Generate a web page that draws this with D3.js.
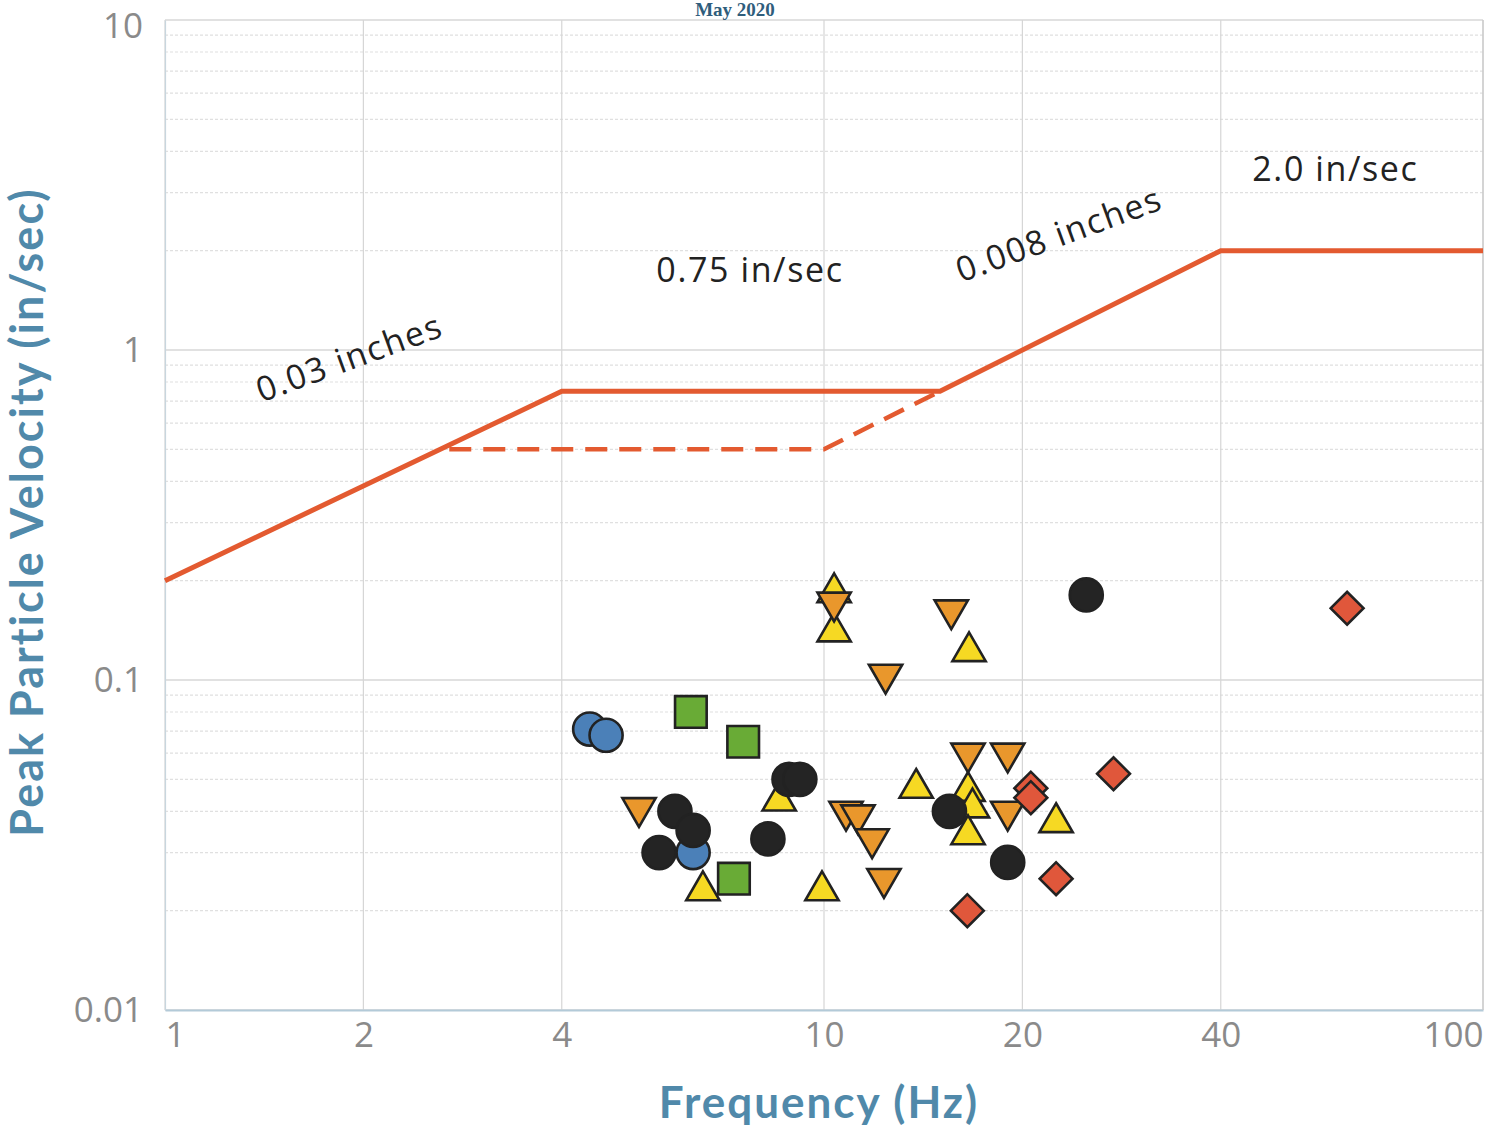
<!DOCTYPE html>
<html>
<head>
<meta charset="utf-8">
<script src="https://cdn.jsdelivr.net/npm/d3@7"></script>
<style>
  body { margin: 0; background: #fff; }
  svg { display: block; }
</style>
</head>
<body>
<div id="chart"></div>
<script>
// Tick values
var xTicks = [1, 2, 4, 10, 20, 40, 100];
var yTicks = [0.01, 0.1, 1, 10];

// Criteria lines [frequency Hz, velocity in/sec]
var limitSolid = [[1, 0.2], [4, 0.75], [15, 0.75], [40, 2.0], [100, 2.0]];
var limitDashed = [[2.7, 0.5], [10, 0.5], [15, 0.75]];

// Measured events [frequency Hz, velocity in/sec]
var blueCircles = [[4.41, 0.071], [4.67, 0.068], [6.33, 0.030]];
var greenSquares = [[6.28, 0.080], [7.54, 0.065], [7.30, 0.025]];
var blackCircles = [[5.94, 0.040], [6.33, 0.035], [5.62, 0.030], [8.85, 0.050], [9.19, 0.050],
                    [8.22, 0.033], [15.5, 0.040], [25.0, 0.181], [19.0, 0.028]];
var yellowUp = [[6.55, 0.023], [8.55, 0.043], [9.93, 0.023], [10.36, 0.184], [10.36, 0.140],
                [16.6, 0.122], [13.8, 0.047], [16.54, 0.046], [16.8, 0.041], [16.54, 0.034], [22.5, 0.037]];
var orangeDown = [[5.24, 0.041], [10.36, 0.172], [12.4, 0.104], [15.6, 0.163], [10.8, 0.040],
                  [11.26, 0.039], [11.83, 0.033], [12.33, 0.025], [16.54, 0.060], [19.0, 0.060], [19.0, 0.040]];
var redDiamonds = [[62.2, 0.165], [20.6, 0.047], [20.6, 0.044], [27.5, 0.052], [22.5, 0.025], [16.5, 0.020]];

// Labels along the criteria line [text, frequency, velocity, angle]
var notes = [["0.03 inches", 1.91, 0.93, -20], ["0.75 in/sec", 7.72, 1.71, 0],
             ["0.008 inches", 22.8, 2.2, -20], ["2.0 in/sec", 59.7, 3.46, 0]];

var margin = {top: 20, right: 16, bottom: 123, left: 165},
    width = 1499 - margin.left - margin.right,
    height = 1133 - margin.top - margin.bottom;

var root = d3.select("#chart").append("svg")
    .attr("width", 1499)
    .attr("height", 1133);

var svg = root.append("g")
    .attr("transform", "translate(" + margin.left + "," + margin.top + ")");

var x = d3.scaleLog().domain([1, 100]).range([0, width]);
var y = d3.scaleLog().domain([0.01, 10]).range([height, 0]);

// Horizontal grid at every minor step
var hGrid = [];
[0.01, 0.1, 1].forEach(function(d) {
  for (var k = 1; k < 10; k++) hGrid.push(+(k * d).toPrecision(3));
});
hGrid.push(10);

svg.append("g").selectAll("line")
  .data(hGrid)
  .enter().append("line")
    .attr("x1", 0).attr("x2", width)
    .attr("y1", d => y(d)).attr("y2", d => y(d))
    .attr("stroke", d => yTicks.indexOf(d) >= 0 ? "#c4c4c4" : "#e0e0e0")
    .attr("stroke-width", 1.2)
    .attr("stroke-dasharray", d => yTicks.indexOf(d) >= 0 ? null : "3,2");

svg.append("g").selectAll("line")
  .data(xTicks)
  .enter().append("line")
    .attr("x1", d => x(d)).attr("x2", d => x(d))
    .attr("y1", 0).attr("y2", height)
    .attr("stroke", "#d6d6d6")
    .attr("stroke-width", 1.2);

// Bottom axis
var xAxis = svg.append("g")
  .attr("transform", "translate(0," + height + ")")
  .call(d3.axisBottom(x).tickValues(xTicks).tickFormat(d3.format("d")).tickSize(0).tickPadding(12));
xAxis.select(".domain").attr("stroke", "#b3cad8").attr("stroke-width", 2);
xAxis.selectAll(".tick text")
  .attr("font-family", "Open Sans")
  .attr("font-size", 35)
  .attr("fill", "#8a8a8a")
  .attr("text-anchor", (d, i) => i === 0 ? "start" : (i === xTicks.length - 1 ? "end" : "middle"));

// Left axis
var yAxis = svg.append("g")
  .call(d3.axisLeft(y).tickValues(yTicks).tickFormat(d => d >= 1 ? d3.format("d")(d) : d3.format("")(d)).tickSize(0).tickPadding(22));
yAxis.select(".domain").attr("stroke", "#c8d6de").attr("stroke-width", 1.2);
yAxis.selectAll(".tick text")
  .attr("font-family", "Open Sans")
  .attr("font-size", 35)
  .attr("fill", "#8a8a8a")
  .attr("dy", (d, i) => i === yTicks.length - 1 ? "0.5em" : "0.32em");

// Right frame
svg.append("line").attr("x1", width).attr("x2", width).attr("y1", 0).attr("y2", height)
  .attr("stroke", "#c8c8c8").attr("stroke-width", 1.2);

// Criteria lines
var line = d3.line().x(d => x(d[0])).y(d => y(d[1]));
svg.append("path")
  .datum(limitDashed)
  .attr("fill", "none")
  .attr("stroke", "#e35a30")
  .attr("stroke-width", 4.5)
  .attr("stroke-dasharray", "22,12")
  .attr("d", line);
svg.append("path")
  .datum(limitSolid)
  .attr("fill", "none")
  .attr("stroke", "#e35a30")
  .attr("stroke-width", 5)
  .attr("d", line);

// Notes
svg.selectAll(".note")
  .data(notes)
  .enter().append("text")
    .attr("class", "note")
    .attr("transform", d => "translate(" + x(d[1]) + "," + y(d[2]) + ") rotate(" + d[3] + ")")
    .attr("text-anchor", "middle")
    .attr("dominant-baseline", "middle")
    .attr("font-family", "Open Sans")
    .attr("font-size", 34)
    .attr("letter-spacing", 1.6)
    .attr("fill", "#222")
    .text(d => d[0]);

// Markers
function drawMarks(data, type, size, fill, rot) {
  svg.append("g").selectAll("path")
    .data(data)
    .enter().append("path")
      .attr("transform", d => "translate(" + x(d[0]) + "," + y(d[1]) + ")" + (rot ? " rotate(" + rot + ")" : ""))
      .attr("d", d3.symbol().type(type).size(size))
      .attr("fill", fill)
      .attr("stroke", "#222")
      .attr("stroke-width", 2.6);
}

drawMarks(yellowUp, d3.symbolTriangle, 480, "#f6d923", 0);
drawMarks(orangeDown, d3.symbolTriangle, 480, "#e9972c", 180);
drawMarks(blueCircles, d3.symbolCircle, 860, "#4b80b8", 0);
drawMarks(greenSquares, d3.symbolSquare, 1000, "#69ab36", 0);
drawMarks(blackCircles, d3.symbolCircle, 860, "#242424", 0);
drawMarks(redDiamonds, d3.symbolSquare, 540, "#e0573b", 45);

// Axis titles
root.append("text")
  .attr("x", margin.left + width / 2 - 5)
  .attr("y", 1118)
  .attr("text-anchor", "middle")
  .attr("font-family", "Lato")
  .attr("font-weight", "bold")
  .attr("font-size", 44)
  .attr("letter-spacing", 2)
  .attr("fill", "#5089aa")
  .text("Frequency (Hz)");

root.append("text")
  .attr("transform", "translate(43,512) rotate(-90)")
  .attr("text-anchor", "middle")
  .attr("font-family", "Lato")
  .attr("font-weight", "bold")
  .attr("font-size", 45)
  .attr("letter-spacing", 2)
  .attr("fill", "#5089aa")
  .text("Peak Particle Velocity (in/sec)");

// Small title at the top
root.append("text")
  .attr("x", 735)
  .attr("y", 16)
  .attr("text-anchor", "middle")
  .attr("font-family", "Liberation Serif")
  .attr("font-weight", "bold")
  .attr("font-size", 19)
  .attr("fill", "#2f5d7c")
  .text("May 2020");
</script>
</body>
</html>
